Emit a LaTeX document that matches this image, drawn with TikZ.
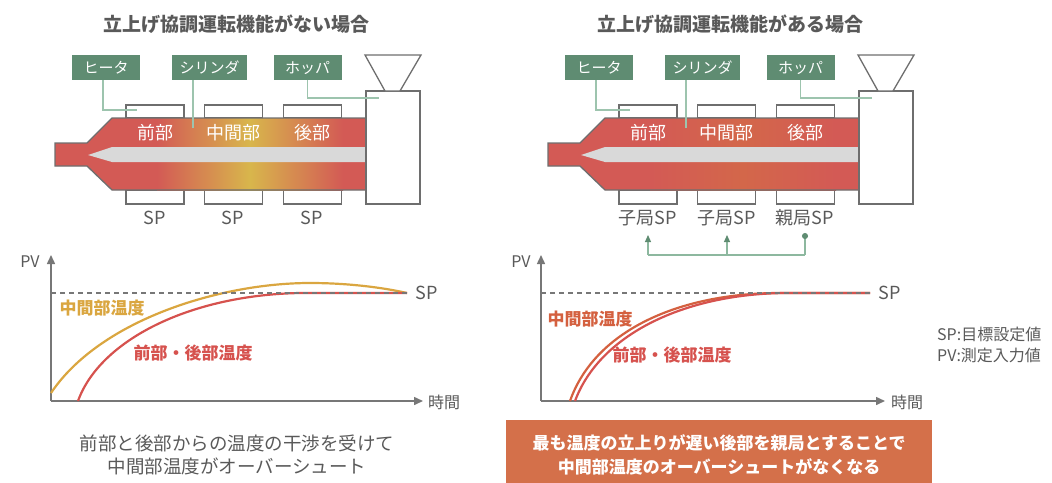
\documentclass[tikz,border=0pt]{standalone}
\usepackage{fontspec}
\setmainfont{Noto Sans CJK JP}
\usepackage{xcolor}
\usepackage{tikz}
\usetikzlibrary{arrows.meta, positioning}

\definecolor{cyred}{HTML}{D35A55}
\definecolor{cyyel}{HTML}{D8B64C}
\definecolor{cyora}{HTML}{D3674A}
\definecolor{tag}{HTML}{5F8C72}
\definecolor{leadc}{HTML}{9DC4AE}
\definecolor{linkc}{HTML}{8DB89F}
\definecolor{ink}{HTML}{595959}
\definecolor{edge}{HTML}{6E6E6E}
\definecolor{axisc}{HTML}{777777}
\definecolor{screwc}{HTML}{D9D9D9}
\definecolor{notec}{HTML}{D4704A}
\definecolor{curyel}{HTML}{DAA640}
\definecolor{curred}{HTML}{D6524E}
\definecolor{curora}{HTML}{D4603F}

\newcommand\barrelpath{(55,143) -- (87,143) -- (112,118) -- (366,118) -- (366,190) -- (112,190) -- (87,166) -- (55,166) -- cycle}

\begin{document}
\begin{tikzpicture}[
  x=1pt, y=-1pt,
  tagbox/.style={fill=tag, text=white, minimum width=68pt, minimum height=25pt, inner xsep=7.5pt, inner ysep=0pt, font=\fontsize{15}{15}\selectfont},
  heater/.style={draw=edge, line width=1.3pt, fill=white, minimum width=58pt, inner sep=0pt},
  part/.style={text=white, inner sep=0pt, font=\fontsize{18}{18}\selectfont},
  splabel/.style={text=ink, inner sep=0pt, font=\fontsize{18}{18}\selectfont},
  title/.style={text=ink, inner sep=0pt, font=\bfseries\fontsize{19}{19}\selectfont},
  leader/.style={draw=leadc, line width=1.2pt},
  axis/.style={draw=axisc, line width=1.5pt, -{Triangle[length=9pt,width=8pt]}},
  setline/.style={draw=axisc, line width=1.5pt, dash pattern=on 5pt off 4pt},
  curve/.style={line width=2.2pt},
  link/.style={draw=linkc, line width=1.2pt}
]
\useasboundingbox (0,0) rectangle (1052,482);

% titles
\node[title] (titleL) at (236,24) {立上げ協調運転機能がない場合};
\node[title] (titleR) at (730,24) {立上げ協調運転機能がある場合};

% extruder, both sides
\foreach \s/\dx/\mid in {L/0/cyyel, R/493/cyora} {
\begin{scope}[xshift=\dx pt]
  \node[heater, minimum height=13pt] (ht1\s) at (155,111.5) {};
  \node[heater, minimum height=13pt] (ht2\s) at (233.5,111.5) {};
  \node[heater, minimum height=13pt] (ht3\s) at (312.5,111.5) {};
  \node[heater, minimum height=14pt] (hb1\s) at (155,197) {};
  \node[heater, minimum height=14pt] (hb2\s) at (233.5,197) {};
  \node[heater, minimum height=14pt] (hb3\s) at (312.5,197) {};

  \fill[cyred] \barrelpath;
  \shade[left color=cyred, right color=cyred, middle color=\mid] (157,118) rectangle (343,190);
  \draw[edge, line width=1.3pt] \barrelpath;
  \fill[screwc] (88,155) -- (112,147) -- (366,147) -- (366,162) -- (112,162) -- cycle;

  \node[draw=edge, line width=1.3pt, fill=white, minimum width=54pt, minimum height=113pt, inner sep=0pt] (hop\s) at (393,147.5) {};
  \draw[edge, line width=1.3pt, fill=white] (365,55) -- (421,55) -- (400,91) -- (385,91) -- cycle;

  \node[part] (front\s) at (155,133) {前部};
  \node[part] (mid\s) at (233,133) {中間部};
  \node[part] (rear\s) at (312,133) {後部};

  \node[tagbox] (tagH\s) at (106,67.5) {ヒータ};
  \node[tagbox] (tagC\s) at (209.5,67.5) {シリンダ};
  \node[tagbox] (tagP\s) at (307.5,67.5) {ホッパ};

  \coordinate (pH\s) at (137,110);
  \coordinate (pC\s) at (193,128);
  \coordinate (pP\s) at (379,98);
  \draw[leader] ([xshift=-3pt]tagH\s.south) |- (pH\s);
  \draw[leader] (tagC\s.south -| pC\s) -- (pC\s);
  \draw[leader] (tagP\s.south) |- (pP\s);
\end{scope}
}

% set points
\node[splabel] (sp1L) at (155,218) {SP};
\node[splabel] (sp2L) at (233,218) {SP};
\node[splabel] (sp3L) at (312,218) {SP};
\node[splabel] (sp1R) at (648,218) {子局SP};
\node[splabel] (sp2R) at (727,218) {子局SP};
\node[splabel] (sp3R) at (805,218) {親局SP};

\coordinate (b1) at (648,255);
\coordinate (b2) at (727,255);
\coordinate (b3) at (805,255);
\coordinate (t1) at (648,235);
\coordinate (t2) at (727,235);
\coordinate (t3) at (805,233);
\draw[link] (b1) -- (b3);
\draw[link, -{Triangle[length=7pt,width=6pt,color=tag]}] (b1) -- (t1);
\draw[link, -{Triangle[length=7pt,width=6pt,color=tag]}] (b2) -- (t2);
\draw[link, -{Circle[length=6pt,color=tag]}] (b3) -- (t3);

% left graph
\coordinate (oL) at (51,401);
\draw[axis] (oL) -- (51,255);
\draw[axis] (oL) -- (423,401);
\node[splabel, font=\fontsize{16}{16}\selectfont] (pvL) at (30,262) {PV};
\node[splabel, font=\fontsize{16}{16}\selectfont] (timeL) at (444,402) {時間};
\draw[curve, draw=curyel] (51,393) .. controls (100,320) and (220,283) .. (310,283) .. controls (350,283) and (385,288) .. (407,293);
\draw[curve, draw=curred] (78,401) .. controls (100,340) and (190,295) .. (300,293) -- (407,293);
\draw[setline] (51,293) -- (407,293);
\node[splabel] (setL) at (427,293) {SP};
\node[inner sep=0pt, text=curyel, font=\bfseries\fontsize{17}{17}\selectfont] (midtL) at (102,308) {中間部温度};
\node[inner sep=0pt, text=curred, font=\bfseries\fontsize{17}{17}\selectfont] (edgetL) at (193,353) {前部・後部温度};

% right graph
\coordinate (oR) at (541,401);
\draw[axis] (oR) -- (541,255);
\draw[axis] (oR) -- (885,401);
\node[splabel, font=\fontsize{16}{16}\selectfont] (pvR) at (521,262) {PV};
\node[splabel, font=\fontsize{16}{16}\selectfont] (timeR) at (907,402) {時間};
\draw[curve, draw=curora] (570,401) .. controls (595,330) and (680,293) .. (780,293) -- (870,293);
\draw[curve, draw=curred] (575,401) .. controls (600,334) and (685,294) .. (785,293) -- (870,293);
\draw[setline] (541,293) -- (870,293);
\node[splabel] (setR) at (890,293) {SP};
\node[inner sep=0pt, text=curora, font=\bfseries\fontsize{17}{17}\selectfont] (midtR) at (590,319) {中間部温度};
\node[inner sep=0pt, text=curred, font=\bfseries\fontsize{17}{17}\selectfont] (edgetR) at (672,355) {前部・後部温度};
\node[splabel, anchor=west, font=\fontsize{16}{16}\selectfont] (keySP) at (937,334) {SP:目標設定値};
\node[splabel, anchor=west, font=\fontsize{16}{16}\selectfont] (keyPV) at (937,355) {PV:測定入力値};

% captions
\node[splabel, align=center, font=\fontsize{18.5}{23}\selectfont] (capL) at (237,455) {前部と後部からの温度の干渉を受けて\\中間部温度がオーバーシュート};
\node[fill=notec, text=white, align=center, minimum width=426pt, minimum height=70pt, inner sep=0pt, font=\bfseries\fontsize{17}{24}\selectfont] (capR) at (719,455) {最も温度の立上りが遅い後部を親局とすることで\\中間部温度のオーバーシュートがなくなる};
\end{tikzpicture}
\end{document}
